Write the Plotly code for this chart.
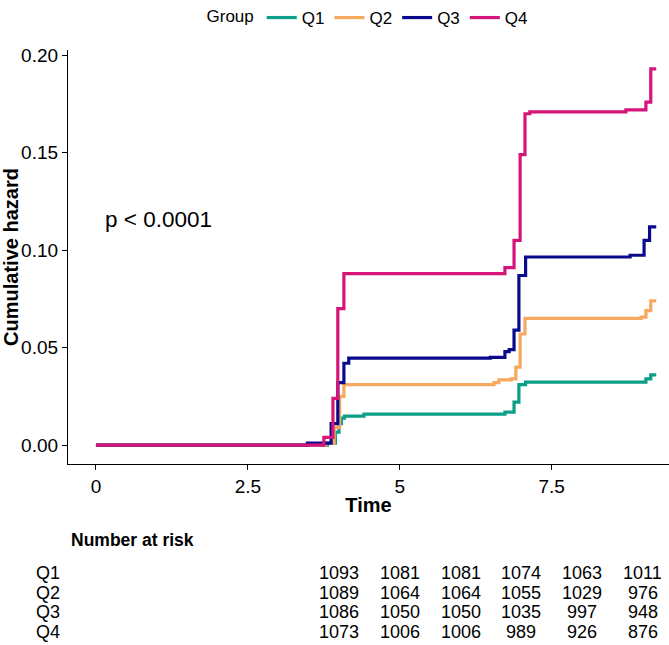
import plotly.graph_objects as go

groups = ["Q1", "Q2", "Q3", "Q4"]
colors = ["#0A9F86", "#F7A85F", "#0A0A8C", "#D6157A"]

q1_time = [0, 3.81, 3.94, 4.00, 4.04, 4.09, 4.41, 6.73, 6.88, 6.96, 7.07, 9.05, 9.13, 9.22]
q1_haz = [0, 0.001, 0.0067, 0.011, 0.0138, 0.0149, 0.0159, 0.0169, 0.022, 0.031, 0.0323, 0.034, 0.036, 0.036]

q2_time = [0, 3.78, 3.92, 4.01, 4.08, 6.55, 6.63, 6.83, 6.91, 6.98, 7.06, 8.97, 9.05, 9.13, 9.22]
q2_haz = [0, 0.001, 0.009, 0.025, 0.031, 0.032, 0.0335, 0.034, 0.040, 0.057, 0.065, 0.0657, 0.069, 0.074, 0.074]

q3_time = [0, 3.48, 3.87, 3.98, 4.08, 4.16, 6.49, 6.73, 6.80, 6.88, 6.96, 7.07, 8.79, 9.02, 9.11, 9.22]
q3_haz = [0, 0.001, 0.011, 0.032, 0.042, 0.0446, 0.045, 0.048, 0.049, 0.059, 0.087, 0.0965, 0.0974, 0.105, 0.112, 0.112]

q4_time = [0, 3.75, 3.90, 3.98, 4.08, 6.73, 6.88, 6.98, 7.06, 7.14, 8.72, 9.05, 9.13, 9.22]
q4_haz = [0, 0.004, 0.024, 0.070, 0.088, 0.091, 0.105, 0.149, 0.170, 0.171, 0.172, 0.176, 0.193, 0.193]

risk_times = [4, 5, 6, 7, 8, 9]
risk_q1 = [1093, 1081, 1081, 1074, 1063, 1011]
risk_q2 = [1089, 1064, 1064, 1055, 1029, 976]
risk_q3 = [1086, 1050, 1050, 1035, 997, 948]
risk_q4 = [1073, 1006, 1006, 989, 926, 876]

x_ticks = [0, 2.5, 5, 7.5]
x_ticklabels = ["0", "2.5", "5", "7.5"]
y_ticks = [0.00, 0.05, 0.10, 0.15, 0.20]

FONT = "Liberation Sans, Arial, sans-serif"

series_t = [q1_time, q2_time, q3_time, q4_time]
series_v = [q1_haz, q2_haz, q3_haz, q4_haz]
risks = [risk_q1, risk_q2, risk_q3, risk_q4]

fig = go.Figure()
for g, c, t, v in zip(groups, colors, series_t, series_v):
    fig.add_trace(go.Scatter(x=t, y=v, mode="lines", name=g,
                             line=dict(color=c, width=3.2, shape="hv")))

W, H = 669, 645
ml, mr, mt, mb = 68, 0, 50, 181
pw = W - ml - mr
ph = H - mt - mb

def ypx(py):
    return (H - mb - py) / ph

def xpx(px):
    return (px - ml) / pw

ann = []
ann.append(dict(x=0.11, y=0.1155, xref="x", yref="y", text="p < 0.0001",
                showarrow=False, xanchor="left", yanchor="middle",
                font=dict(size=22.5, color="black", family=FONT)))
ann.append(dict(x=xpx(69), y=ypx(540), xref="paper", yref="paper",
                text="<b>Number at risk</b>", showarrow=False, xanchor="left",
                yanchor="middle", font=dict(size=17.5, color="black", family=FONT)))
row_y = [573, 593, 612, 632]
for g, r, yy in zip(groups, risks, row_y):
    ann.append(dict(x=xpx(34), y=ypx(yy), xref="paper", yref="paper",
                    text=g, showarrow=False, xanchor="left", yanchor="middle",
                    font=dict(size=18, color="black", family=FONT)))
    for t, n in zip(risk_times, r):
        ann.append(dict(x=t, y=ypx(yy), xref="x", yref="paper", text=str(n),
                        showarrow=False, xanchor="center", yanchor="middle",
                        font=dict(size=18, color="black", family=FONT)))

fig.update_layout(
    width=W, height=H,
    margin=dict(l=ml, r=mr, t=mt, b=mb),
    plot_bgcolor="white", paper_bgcolor="white",
    font=dict(family=FONT, color="black"),
    annotations=ann,
    legend=dict(orientation="h", x=0.5, xanchor="center", y=1 + mt / ph, yanchor="top",
                title=dict(text="Group", font=dict(size=17)),
                font=dict(size=17), itemwidth=30),
    xaxis=dict(range=[-0.46, 9.43], tickvals=x_ticks, ticktext=x_ticklabels,
               showline=True, linecolor="black", linewidth=1.3, ticks="outside",
               ticklen=5, tickcolor="black", showgrid=False, zeroline=False,
               tickfont=dict(size=19, family=FONT),
               title=dict(text="<b>Time</b>", font=dict(size=20, family=FONT), standoff=2)),
    yaxis=dict(range=[-0.0097, 0.2027], tickvals=y_ticks, tickformat=".2f",
               showline=True, linecolor="black", linewidth=1.3, ticks="outside",
               ticklen=5, tickcolor="black", showgrid=False, zeroline=False,
               tickfont=dict(size=19, family=FONT),
               title=dict(text="<b>Cumulative hazard</b>", font=dict(size=20, family=FONT), standoff=4)),
)

fig.write_html("out.html", config={"displayModeBar": False},
               post_script="document.body.style.margin='0px';")
